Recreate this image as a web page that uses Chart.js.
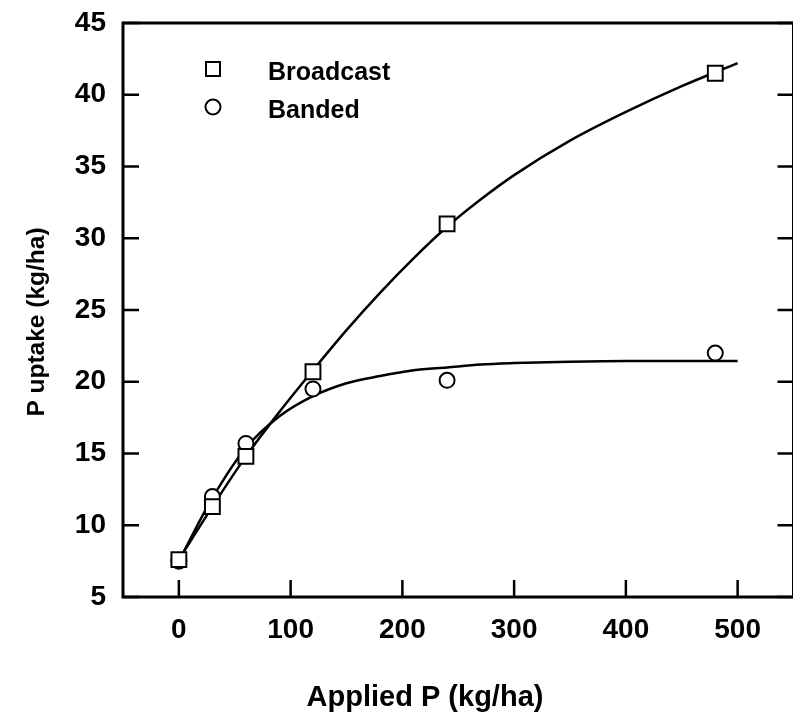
<!DOCTYPE html>
<html>
<head>
<meta charset="utf-8">
<script src="https://cdn.jsdelivr.net/npm/chart.js@4.4.0/dist/chart.umd.min.js"></script>
<style>
  html, body { margin: 0; padding: 0; background: #fff; overflow: hidden; }
  #wrap { width: 806px; height: 714px; }
</style>
</head>
<body>
<div id="wrap"><canvas id="uptakeChart" width="806" height="714"></canvas></div>
<script>
// ===== Data =====
const appliedP        = [0, 30, 60, 120, 240, 480];
const broadcastUptake = [7.6, 11.3, 14.8, 20.7, 31.0, 41.5];
const bandedUptake    = [7.5, 12.0, 15.7, 19.5, 20.1, 22.0];

// fitted curves
const curveP          = [0, 30, 60, 90, 120, 150, 180, 210, 240, 270, 300, 350, 400, 450, 500];
const broadcastCurve  = [7.6, 11.3, 14.8, 17.9, 20.8, 23.6, 26.2, 28.6, 30.8, 32.7, 34.4, 36.8, 38.8, 40.6, 42.2];
const bandedCurve     = [7.5, 11.9, 15.4, 17.6, 19.0, 19.9, 20.4, 20.8, 21.0, 21.2, 21.3, 21.4, 21.45, 21.45, 21.45];

const xTicks = [0, 100, 200, 300, 400, 500];
const seriesNames = ['Broadcast', 'Banded'];

const FONT = '"Liberation Sans", Arial, Helvetica, sans-serif';
const toXY = (xs, ys) => xs.map((x, i) => ({ x, y: ys[i] }));

// ===== Frame + inward ticks =====
const framePlugin = {
  id: 'frame',
  afterDraw(chart) {
    const { ctx, chartArea: a, scales: { x, y } } = chart;
    ctx.save();
    ctx.strokeStyle = '#000';
    ctx.lineWidth = 3;
    ctx.strokeRect(a.left, a.top, a.right - a.left, a.bottom - a.top);
    ctx.lineWidth = 2.5;
    ctx.beginPath();
    x.ticks.forEach(t => {
      const px = x.getPixelForValue(t.value);
      ctx.moveTo(px, a.bottom); ctx.lineTo(px, a.bottom - 17);
    });
    y.ticks.forEach(t => {
      const py = y.getPixelForValue(t.value);
      ctx.moveTo(a.left, py);  ctx.lineTo(a.left + 16, py);
      ctx.moveTo(a.right, py); ctx.lineTo(a.right - 16, py);
    });
    ctx.stroke();
    ctx.restore();
  }
};

// ===== Legend + axis titles =====
const textPlugin = {
  id: 'texts',
  afterDraw(chart) {
    const { ctx } = chart;
    ctx.save();
    ctx.strokeStyle = '#000';
    ctx.lineWidth = 2;

    // legend markers
    ctx.fillStyle = '#fff';
    ctx.beginPath(); ctx.rect(206, 62, 14, 14); ctx.fill(); ctx.stroke();
    ctx.beginPath(); ctx.arc(213, 107, 7.5, 0, Math.PI * 2); ctx.fill(); ctx.stroke();

    ctx.fillStyle = '#000';
    ctx.font = `bold 25px ${FONT}`;
    ctx.textBaseline = 'middle';
    ctx.textAlign = 'left';
    ctx.fillText(seriesNames[0], 268, 73);
    ctx.fillText(seriesNames[1], 268, 111);

    // x title
    ctx.font = `bold 29px ${FONT}`;
    ctx.textAlign = 'center';
    ctx.fillText('Applied P (kg/ha)', 425, 698);

    // y title
    ctx.translate(37, 322);
    ctx.rotate(-Math.PI / 2);
    ctx.font = `bold 24.5px ${FONT}`;
    ctx.fillText('P uptake (kg/ha)', 0, 0);
    ctx.restore();
  }
};

new Chart(document.getElementById('uptakeChart'), {
  type: 'scatter',
  data: {
    datasets: [
      {
        label: seriesNames[0], data: toXY(appliedP, broadcastUptake), order: 0,
        pointStyle: 'rect', pointRadius: 10.5, borderColor: '#000', backgroundColor: '#fff',
        pointBorderWidth: 2
      },
      {
        label: seriesNames[1], data: toXY(appliedP, bandedUptake), order: 1,
        pointStyle: 'circle', pointRadius: 7.5, borderColor: '#000', backgroundColor: '#fff',
        pointBorderWidth: 2
      },
      {
        label: 'Broadcast fit', data: toXY(curveP, broadcastCurve), order: 2,
        showLine: true, pointRadius: 0, borderColor: '#000', borderWidth: 2.5,
        cubicInterpolationMode: 'monotone'
      },
      {
        label: 'Banded fit', data: toXY(curveP, bandedCurve), order: 3,
        showLine: true, pointRadius: 0, borderColor: '#000', borderWidth: 2.5,
        cubicInterpolationMode: 'monotone'
      }
    ]
  },
  options: {
    responsive: false, animation: false, devicePixelRatio: 1,
    layout: { padding: { left: 0, top: 23, right: 9, bottom: 0 } },
    plugins: { legend: { display: false }, tooltip: { enabled: false } },
    scales: {
      x: {
        type: 'linear', min: -50, max: 550,
        afterBuildTicks: s => { s.ticks = xTicks.map(v => ({ value: v })); },
        afterFit: s => { s.height = 117; s.paddingLeft = 0; s.paddingRight = 0; },
        grid: { display: false, drawTicks: false },
        border: { display: false },
        ticks: { color: '#000', padding: 16, font: { family: FONT, size: 28, weight: 'bold' } }
      },
      y: {
        type: 'linear', min: 5, max: 45,
        afterFit: s => { s.width = 123; s.paddingTop = 0; s.paddingBottom = 0; },
        grid: { display: false, drawTicks: false },
        border: { display: false },
        ticks: { stepSize: 5, color: '#000', padding: 17, font: { family: FONT, size: 28, weight: 'bold' } }
      }
    }
  },
  plugins: [framePlugin, textPlugin]
});
</script>
</body>
</html>
